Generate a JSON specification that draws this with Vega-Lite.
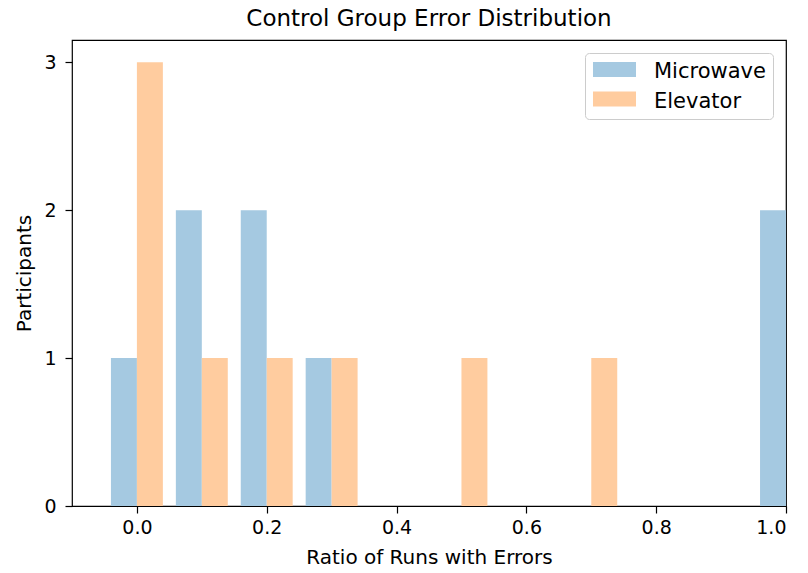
{
  "$schema": "https://vega.github.io/schema/vega-lite/v6.json",
  "autosize": {"type": "none"},
  "padding": {"left": 72, "top": 40, "right": 22, "bottom": 67},
  "width": 714,
  "height": 466,
  "background": "white",
  "title": {"text": "Control Group Error Distribution", "font": "DejaVu Sans", "fontSize": 23, "fontWeight": "normal", "color": "black", "offset": 9},
  "data": {"values": [
    {"series": "Microwave", "lo": -0.04, "hi": 0.0, "count": 1},
    {"series": "Microwave", "lo": 0.06, "hi": 0.1, "count": 2},
    {"series": "Microwave", "lo": 0.16, "hi": 0.2, "count": 2},
    {"series": "Microwave", "lo": 0.26, "hi": 0.3, "count": 1},
    {"series": "Microwave", "lo": 0.96, "hi": 1.0, "count": 2},
    {"series": "Elevator", "lo": 0.0, "hi": 0.04, "count": 3},
    {"series": "Elevator", "lo": 0.1, "hi": 0.14, "count": 1},
    {"series": "Elevator", "lo": 0.2, "hi": 0.24, "count": 1},
    {"series": "Elevator", "lo": 0.3, "hi": 0.34, "count": 1},
    {"series": "Elevator", "lo": 0.5, "hi": 0.54, "count": 1},
    {"series": "Elevator", "lo": 0.7, "hi": 0.74, "count": 1}
  ]},
  "mark": {"type": "bar", "clip": true},
  "encoding": {
    "x": {"field": "lo", "type": "quantitative", "scale": {"domain": [-0.1, 1.0], "nice": false, "zero": false},
      "axis": {"title": "Ratio of Runs with Errors", "values": [0, 0.2, 0.4, 0.6, 0.8, 1.0], "format": ".1f", "grid": false, "labelPadding": 5, "titlePadding": 10}},
    "x2": {"field": "hi"},
    "y": {"field": "count", "type": "quantitative", "scale": {"domain": [0, 3.15], "nice": false},
      "axis": {"title": "Participants", "values": [0, 1, 2, 3], "format": "d", "grid": false, "labelPadding": 9, "titlePadding": 9}},
    "y2": {"datum": 0},
    "color": {"field": "series", "type": "nominal",
      "scale": {"domain": ["Microwave", "Elevator"], "range": ["#a5c9e1", "#ffcc9f"]},
      "legend": {"title": null, "orient": "none", "legendX": 513, "legendY": 13,
        "symbolType": "M-0.917,-0.833H2.667V0.417H-0.917Z", "symbolSize": 576, "symbolOpacity": 1, "symbolStrokeWidth": 0,
        "labelFont": "DejaVu Sans", "labelFontSize": 21, "labelColor": "black", "labelOffset": 38,
        "rowPadding": 7.5, "padding": 7, "strokeColor": "#cccccc", "fillColor": "white", "cornerRadius": 4}}
  },
  "config": {
    "view": {"stroke": "black", "strokeWidth": 1.2},
    "axis": {"domain": false, "tickColor": "black", "tickSize": 7, "tickWidth": 1.2,
      "labelFont": "DejaVu Sans", "labelFontSize": 19, "labelColor": "black",
      "titleFont": "DejaVu Sans", "titleFontSize": 20, "titleFontWeight": "normal", "titleColor": "black"}
  }
}
